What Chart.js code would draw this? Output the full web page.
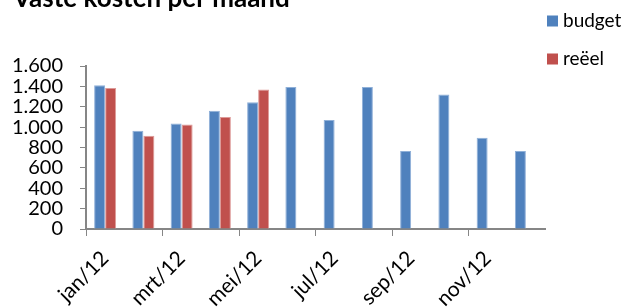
<!DOCTYPE html>
<html>
<head>
<meta charset="utf-8">
<script src="https://cdn.jsdelivr.net/npm/chart.js@4"></script>
<style>
  html, body { margin: 0; padding: 0; background: #fff; }
  #wrap { width: 628px; height: 307px; position: relative; }
</style>
</head>
<body>
<div id="wrap"><canvas id="kostenChart"></canvas></div>
<script>
// vaste kosten per maand - budget vs reëel
const maanden = ['jan/12', 'feb/12', 'mrt/12', 'apr/12', 'mei/12', 'jun/12',
                 'jul/12', 'aug/12', 'sep/12', 'okt/12', 'nov/12', 'dec/12'];
const budget = [1410, 965, 1035, 1160, 1245, 1395, 1070, 1395, 765, 1320, 895, 765];
const reeel = [1385, 915, 1025, 1100, 1370, null, null, null, null, null, null, null];
const yTickLabels = ['0', '200', '400', '600', '800', '1.000', '1.200', '1.400', '1.600'];

const titel = 'Vaste kosten per maand';
const FONT = 'Lato, "Open Sans", sans-serif';
const AS_KLEUR = '#868686';

// titel (bovenkant valt buiten beeld) + legenda rechtsboven
const extraTekst = {
  id: 'extraTekst',
  afterDraw(chart) {
    const ctx = chart.ctx;
    ctx.save();
    ctx.fillStyle = '#000';
    ctx.font = 'bold 26px ' + FONT;
    ctx.textBaseline = 'alphabetic';
    ctx.textAlign = 'left';
    ctx.fillText(titel, 13, 7);

    ctx.font = '19px ' + FONT;
    ctx.textBaseline = 'middle';
    chart.data.datasets.forEach((ds, i) => {
      const y = 21 + i * 38;
      ctx.fillStyle = ds.backgroundColor;
      ctx.fillRect(547, y - 5.5, 11, 11);
      ctx.fillStyle = '#000';
      ctx.fillText(ds.label, 563, y);
    });
    ctx.restore();
  }
};

const ctx = document.getElementById('kostenChart').getContext('2d');
new Chart(ctx, {
  type: 'bar',
  data: {
    labels: maanden,
    datasets: [
      {
        label: 'budget',
        data: budget,
        backgroundColor: '#4f81bd',
        borderColor: '#8fb0d8',
        borderWidth: 1
      },
      {
        label: 'reëel',
        data: reeel,
        backgroundColor: '#c0504d',
        borderColor: '#dd9a98',
        borderWidth: 1
      }
    ]
  },
  options: {
    responsive: true,
    maintainAspectRatio: false,
    animation: false,
    layout: { padding: { top: 66, right: 83, bottom: 0, left: 0 } },
    datasets: {
      bar: { categoryPercentage: 0.575, barPercentage: 1 }
    },
    scales: {
      x: {
        offset: true,
        grid: {
          offset: true,
          drawOnChartArea: false,
          tickLength: 7,
          // alleen een streepje om de twee maanden
          color: c => (c.index % 2 === 0 ? AS_KLEUR : 'rgba(0,0,0,0)')
        },
        border: { color: AS_KLEUR, width: 2 },
        ticks: {
          autoSkip: false,
          minRotation: 45,
          maxRotation: 45,
          padding: 10,
          color: '#000',
          font: { family: FONT, size: 21 },
          callback: (v, i) => (i % 2 === 0 ? maanden[i] : '')
        },
        afterFit(scale) { scale.height = 78; }
      },
      y: {
        min: 0,
        max: 1600,
        grid: {
          drawOnChartArea: false,
          tickLength: 6,
          color: AS_KLEUR
        },
        border: { color: AS_KLEUR, width: 2 },
        ticks: {
          autoSkip: false,
          stepSize: 200,
          padding: 17,
          color: '#000',
          font: { family: FONT, size: 20 },
          callback: (v, i) => yTickLabels[i]
        },
        afterFit(scale) { scale.width = 86; }
      }
    },
    plugins: {
      legend: { display: false },
      title: { display: false },
      tooltip: { enabled: false }
    }
  },
  plugins: [extraTekst]
});
</script>
</body>
</html>
